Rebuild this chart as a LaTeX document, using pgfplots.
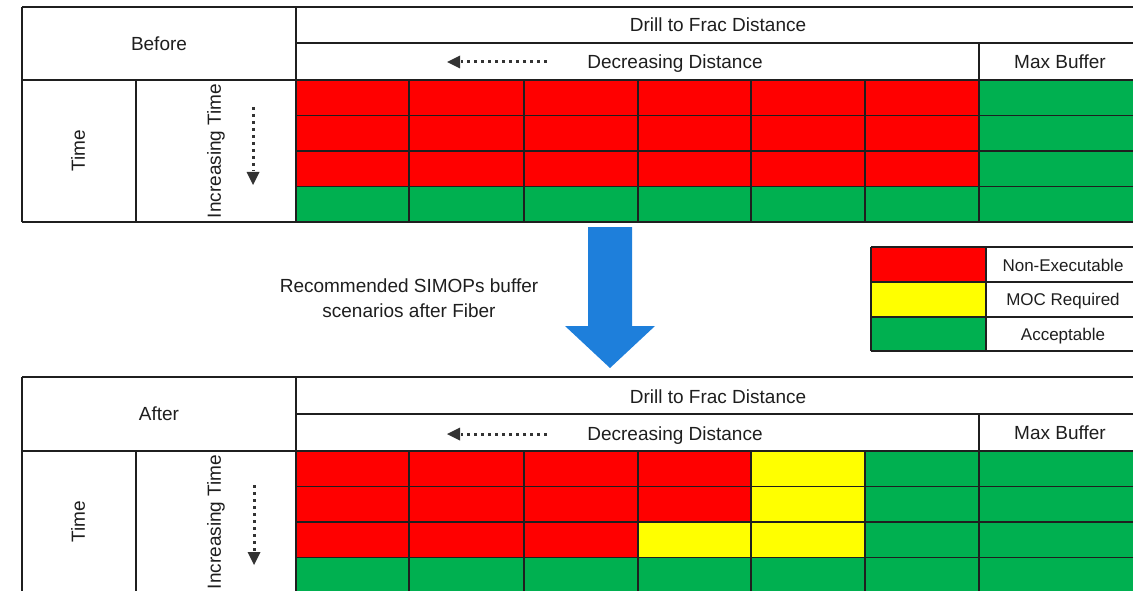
\documentclass[border=0pt]{standalone}
\usepackage{pgfplots}
\usepackage{pgfplotstable}
\pgfplotsset{compat=1.18}
\usepackage{fontspec}
\setmainfont{Liberation Sans}

\definecolor{cred}{RGB}{255,0,0}
\definecolor{cyel}{RGB}{255,255,0}
\definecolor{cgrn}{RGB}{0,176,80}
\definecolor{cblue}{RGB}{30,127,219}
\definecolor{ink}{RGB}{30,30,30}

\tikzset{
  lbl/.style={font=\fontsize{19}{22}\selectfont, text=ink, text height=13.6pt, text depth=0pt, inner sep=0pt},
  leg/.style={font=\fontsize{17}{20}\selectfont, text=ink, text height=12.2pt, text depth=0pt, inner sep=0pt},
}

% cell status: 0 = non-executable, 1 = MOC required, 2 = acceptable
% x, y = cell centres (picture pixels, y downwards)
\pgfplotstableread{
x y c
352.9 97.75 0
466.7 97.75 0
580.6 97.75 0
694.4 97.75 0
808.2 97.75 0
922.1 97.75 0
1035.9 97.75 2
1149.8 97.75 2
352.9 133.25 0
466.7 133.25 0
580.6 133.25 0
694.4 133.25 0
808.2 133.25 0
922.1 133.25 0
1035.9 133.25 2
1149.8 133.25 2
352.9 168.75 0
466.7 168.75 0
580.6 168.75 0
694.4 168.75 0
808.2 168.75 0
922.1 168.75 0
1035.9 168.75 2
1149.8 168.75 2
352.9 204.25 2
466.7 204.25 2
580.6 204.25 2
694.4 204.25 2
808.2 204.25 2
922.1 204.25 2
1035.9 204.25 2
1149.8 204.25 2
}\before

\pgfplotstableread{
x y c
352.9 468.75 0
466.7 468.75 0
580.6 468.75 0
694.4 468.75 0
808.2 468.75 1
922.1 468.75 2
1035.9 468.75 2
1149.8 468.75 2
352.9 504.25 0
466.7 504.25 0
580.6 504.25 0
694.4 504.25 0
808.2 504.25 1
922.1 504.25 2
1035.9 504.25 2
1149.8 504.25 2
352.9 539.75 0
466.7 539.75 0
580.6 539.75 0
694.4 539.75 1
808.2 539.75 1
922.1 539.75 2
1035.9 539.75 2
1149.8 539.75 2
352.9 575.25 2
466.7 575.25 2
580.6 575.25 2
694.4 575.25 2
808.2 575.25 2
922.1 575.25 2
1035.9 575.25 2
1149.8 575.25 2
}\after

% table rules, segments split by nan
\pgfplotstableread{
x y
22 7
1133 7
nan nan
296 43
1133 43
nan nan
22 80
1133 80
nan nan
296 115.5
1133 115.5
nan nan
296 151
1133 151
nan nan
296 186.5
1133 186.5
nan nan
22 222
1133 222
nan nan
22 7
22 222
nan nan
296 7
296 222
nan nan
136 80
136 222
nan nan
979 43
979 222
nan nan
409 80
409 222
nan nan
524 80
524 222
nan nan
638 80
638 222
nan nan
751 80
751 222
nan nan
865 80
865 222
nan nan
22 377
1133 377
nan nan
296 414
1133 414
nan nan
22 451
1133 451
nan nan
296 486.5
1133 486.5
nan nan
296 522
1133 522
nan nan
296 557.5
1133 557.5
nan nan
22 377
22 600
nan nan
296 377
296 600
nan nan
136 451
136 600
nan nan
979 414
979 600
nan nan
409 451
409 600
nan nan
524 451
524 600
nan nan
638 451
638 600
nan nan
751 451
751 600
nan nan
865 451
865 600
nan nan
871 247
1133 247
nan nan
871 282
1133 282
nan nan
871 317
1133 317
nan nan
871 351
1133 351
nan nan
871 247
871 351
nan nan
986 247
986 351
}\rules

\begin{document}
\begin{tikzpicture}
\begin{axis}[
    scale only axis,
    width=1133pt, height=591pt,
    xmin=0, xmax=1133, ymin=0, ymax=591,
    y dir=reverse,
    hide axis,
    enlargelimits=false,
    colormap={status}{rgb255=(255,0,0) rgb255=(255,255,0) rgb255=(0,176,80)},
    point meta min=0, point meta max=2,
    unbounded coords=jump,
  ]
  % colour grids
  \addplot[matrix plot*, mesh/cols=8, point meta=explicit] table[x=x, y=y, meta=c] {\before};
  \addplot[matrix plot*, mesh/cols=8, point meta=explicit] table[x=x, y=y, meta=c] {\after};

  % legend swatches
  \addplot[fill=cred, draw=none] coordinates {(871,247) (986,247) (986,282) (871,282)} -- cycle;
  \addplot[fill=cyel, draw=none] coordinates {(871,282) (986,282) (986,317) (871,317)} -- cycle;
  \addplot[fill=cgrn, draw=none] coordinates {(871,317) (986,317) (986,351) (871,351)} -- cycle;

  % big blue arrow
  \addplot[fill=cblue, draw=none] coordinates {(588,227) (632,227) (632,326) (655,326) (610,368) (565,326) (588,326)} -- cycle;

  % rules
  \addplot[black!88, line width=1.5pt, mark=none] table[x=x, y=y] {\rules};

  % dotted arrows
  \addplot[black!80, line width=3pt, dash pattern=on 3pt off 4pt, mark=none] coordinates {(547,62) (461,62)};
  \addplot[fill=black!80, draw=none] coordinates {(447,62) (460,55.5) (460,68.5)} -- cycle;
  \addplot[black!80, line width=3pt, dash pattern=on 3pt off 4pt, mark=none] coordinates {(547,434) (461,434)};
  \addplot[fill=black!80, draw=none] coordinates {(447,434) (460,427.5) (460,440.5)} -- cycle;
  \addplot[black!80, line width=3pt, dash pattern=on 3pt off 4pt, mark=none] coordinates {(253,107) (253,171)};
  \addplot[fill=black!80, draw=none] coordinates {(253,185) (246.5,172) (259.5,172)} -- cycle;
  \addplot[black!80, line width=3pt, dash pattern=on 3pt off 4pt, mark=none] coordinates {(254,485) (254,551)};
  \addplot[fill=black!80, draw=none] coordinates {(254,565) (247.5,552) (260.5,552)} -- cycle;

  % labels, top table
  \node[lbl] at (axis cs:159,43.5) {Before};
  \node[lbl] at (axis cs:718,25) {Drill to Frac Distance};
  \node[lbl] at (axis cs:675,62) {Decreasing Distance};
  \node[lbl] at (axis cs:1060,62) {Max Buffer};
  \node[lbl, rotate=90] at (axis cs:78,151) {Time};
  \node[lbl, rotate=90] at (axis cs:214,151) {Increasing Time};

  % labels, bottom table
  \node[lbl] at (axis cs:159,414) {After};
  \node[lbl] at (axis cs:718,397) {Drill to Frac Distance};
  \node[lbl] at (axis cs:675,434) {Decreasing Distance};
  \node[lbl] at (axis cs:1060,433) {Max Buffer};
  \node[lbl, rotate=90] at (axis cs:78,522) {Time};
  \node[lbl, rotate=90] at (axis cs:214,522) {Increasing Time};

  % middle note
  \node[lbl] at (axis cs:409,286) {Recommended SIMOPs buffer};
  \node[lbl] at (axis cs:409,311) {scenarios after Fiber};

  % legend texts
  \node[leg] at (axis cs:1063,265) {Non-Executable};
  \node[leg] at (axis cs:1063,299.5) {MOC Required};
  \node[leg] at (axis cs:1063,334) {Acceptable};
\end{axis}
\pgfresetboundingbox
\path[use as bounding box] (current axis.south west) rectangle (current axis.north east);
\end{tikzpicture}
\end{document}
